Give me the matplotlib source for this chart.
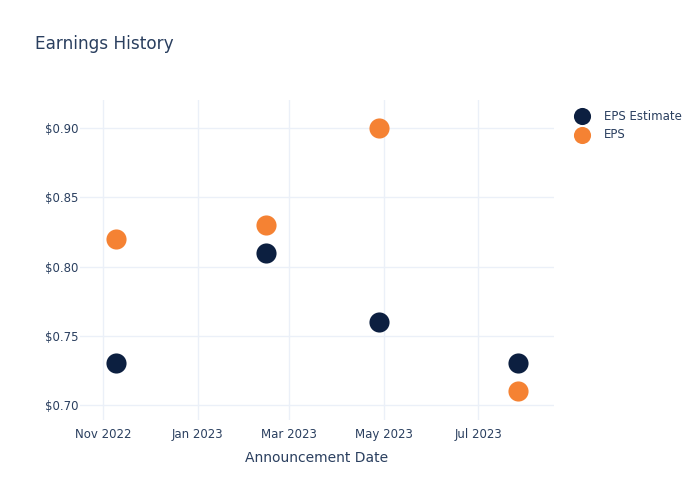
import matplotlib.pyplot as plt
import matplotlib.dates as mdates
import numpy as np
from matplotlib.ticker import FuncFormatter

dates = np.array(['2022-11-09', '2023-02-14', '2023-04-28', '2023-07-27'], dtype='datetime64[D]')
eps_estimate = [0.73, 0.81, 0.76, 0.73]
eps_actual = [0.82, 0.83, 0.90, 0.71]

text_c = '#2a3f5f'
grid_c = '#ebf0f8'

fig = plt.figure(figsize=(7, 5), dpi=100)
ax = fig.add_axes([80/700, 80/500, 474/700, 320/500])

ax.scatter(dates, eps_estimate, s=210, color='#0c1f40', label='EPS Estimate', zorder=3, linewidths=0)
ax.scatter(dates, eps_actual, s=210, color='#f58233', label='EPS', zorder=3, linewidths=0)

ax.set_xlim(np.datetime64('2022-10-17'), np.datetime64('2023-08-19'))
ax.set_ylim(0.689, 0.9205)
ax.set_yticks([0.70, 0.75, 0.80, 0.85, 0.90])
ax.yaxis.set_major_formatter(FuncFormatter(lambda v, p: f'${v:.2f}'))
ax.xaxis.set_major_locator(mdates.MonthLocator(bymonth=[1, 3, 5, 7, 9, 11]))
ax.xaxis.set_major_formatter(mdates.DateFormatter('%b %Y'))

ax.grid(True, color=grid_c, linewidth=1)
ax.set_axisbelow(True)
for s in ax.spines.values():
    s.set_visible(False)
ax.tick_params(length=0, colors=text_c, labelsize=8.5)
ax.tick_params(axis='y', pad=1)
ax.tick_params(axis='x', pad=6)

ax.set_xlabel('Announcement Date', color=text_c, fontsize=10, labelpad=7)
fig.text(35/700, 1 - 44/500, 'Earnings History', color=text_c, fontsize=12.2, va='center')

leg = ax.legend(loc='upper left', bbox_to_anchor=(1.025, 0.985), frameon=False,
                fontsize=8.5, labelcolor=text_c, handletextpad=0.8, borderaxespad=0,
                labelspacing=0.45, markerscale=0.85)

fig.savefig('out.png', dpi=100)
